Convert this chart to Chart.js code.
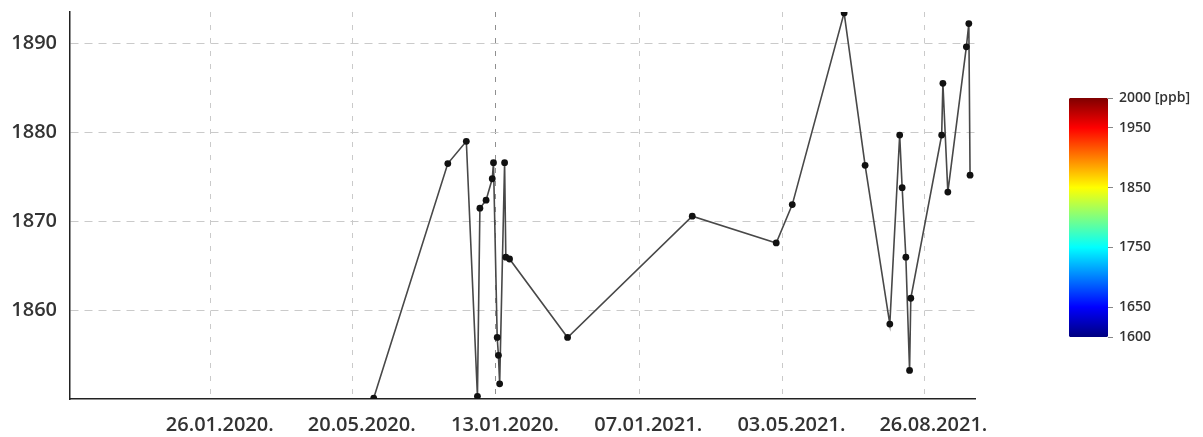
<!DOCTYPE html>
<html>
<head>
<meta charset="utf-8">
<script src="https://cdn.jsdelivr.net/npm/chart.js@4.4.1/dist/chart.umd.min.js"></script>
<style>
  html, body { margin: 0; padding: 0; background: #fff; }
  #wrap { position: relative; width: 1203px; height: 437px; overflow: hidden; }
  #main { position: absolute; left: 0; top: 0; }
  #scale { position: absolute; left: 1060px; top: 0; }
</style>
</head>
<body>
<div id="wrap">
  <canvas id="main" width="1000" height="437"></canvas>
  <canvas id="scale" width="143" height="437"></canvas>
</div>
<script>
// CH4 samples (ppb) by sampling date
const sampleDates = [
  '2020-06-06', '2020-08-05', '2020-08-20', '2020-08-29', '2020-08-31',
  '2020-09-05', '2020-09-10', '2020-09-11', '2020-09-14', '2020-09-15',
  '2020-09-16', '2020-09-20', '2020-09-21', '2020-09-24', '2020-11-10',
  '2021-02-19', '2021-04-28', '2021-05-11', '2021-06-22', '2021-07-09',
  '2021-07-29', '2021-08-06', '2021-08-08', '2021-08-11', '2021-08-14',
  '2021-08-15', '2021-09-09', '2021-09-10', '2021-09-14', '2021-09-29',
  '2021-10-01', '2021-10-02'
];
const ch4Values = [
  1850.2, 1876.5, 1879.0, 1850.4, 1871.5,
  1872.4, 1874.8, 1876.6, 1857.0, 1855.0,
  1851.8, 1876.6, 1866.0, 1865.8, 1857.0,
  1870.6, 1867.6, 1871.9, 1893.4, 1876.3,
  1858.5, 1879.7, 1873.8, 1866.0, 1853.3,
  1861.4, 1879.7, 1885.5, 1873.3, 1889.6,
  1892.2, 1875.2
];

// Time axis
const axisStart = '2019-10-04';
const axisEnd = '2021-10-06';
const tickDates = ['2020-01-26', '2020-05-20', '2020-09-13', '2021-01-07', '2021-05-03', '2021-08-26'];
const tickLabels = ['26.01.2020.', '20.05.2020.', '13.01.2020.', '07.01.2021.', '03.05.2021.', '26.08.2021.'];

// Value axis
const valueMin = 1850.1;
const valueMax = 1893.5;
const valueTicks = [1860, 1870, 1880, 1890];

// Colour scale
const colorbarRange = [1600, 2000];
const colorbarTicks = [1600, 1650, 1750, 1850, 1950, 2000];
const colorbarUnit = '[ppb]';

const toTime = s => Date.parse(s + 'T00:00:00Z');
const labelFont = { family: 'Open Sans', size: 20, weight: '600' };

new Chart(document.getElementById('main'), {
  type: 'line',
  data: {
    datasets: [{
      data: sampleDates.map((d, i) => ({ x: toTime(d), y: ch4Values[i] })),
      borderColor: '#484848',
      borderWidth: 1.6,
      pointRadius: 3.4,
      pointBackgroundColor: '#111',
      pointBorderColor: '#111',
      pointBorderWidth: 0,
      tension: 0
    }]
  },
  options: {
    responsive: false,
    animation: false,
    events: [],
    layout: { padding: { top: 12, right: 25, left: 0, bottom: 0 } },
    plugins: { legend: { display: false }, tooltip: { enabled: false } },
    scales: {
      x: {
        type: 'linear',
        min: toTime(axisStart),
        max: toTime(axisEnd),
        afterBuildTicks: s => { s.ticks = tickDates.map(d => ({ value: toTime(d) })); },
        afterFit: s => { s.height = 38; s.paddingLeft = 0; s.paddingRight = 0; },
        ticks: {
          autoSkip: false, maxRotation: 0, minRotation: 0,
          padding: 14, labelOffset: 9,
          color: '#333', font: labelFont,
          callback: (v, i) => tickLabels[i]
        },
        grid: {
          drawTicks: false,
          lineWidth: 1,
          color: c => (c.index === 2 ? '#8f8f8f' : '#cacaca')
        },
        border: { display: true, color: '#222', width: 1.5, dash: [5, 8] }
      },
      y: {
        type: 'linear',
        min: valueMin,
        max: valueMax,
        afterBuildTicks: s => { s.ticks = valueTicks.map(v => ({ value: v })); },
        afterFit: s => { s.width = 70; s.paddingTop = 0; s.paddingBottom = 0; },
        ticks: { padding: 13, color: '#333', font: labelFont, callback: v => v },
        grid: { drawTicks: false, lineWidth: 1, color: '#cacaca' },
        border: { display: true, color: '#222', width: 1.5, dash: [8, 6] }
      }
    }
  }
});

// Jet colour map stops, low value at 0
const jetStops = [
  [0.0, '#00007f'], [0.125, '#0000ff'], [0.375, '#00ffff'],
  [0.625, '#ffff00'], [0.875, '#ff0000'], [1.0, '#7f0000']
];

new Chart(document.getElementById('scale'), {
  type: 'bar',
  data: {
    labels: [''],
    datasets: [{
      data: [colorbarRange],
      backgroundColor: ctx => {
        const a = ctx.chart.chartArea;
        if (!a) return '#888';
        const g = ctx.chart.ctx.createLinearGradient(0, a.bottom, 0, a.top);
        jetStops.forEach(([p, c]) => g.addColorStop(p, c));
        return g;
      },
      barPercentage: 1,
      categoryPercentage: 1,
      borderRadius: 3,
      borderSkipped: false,
      borderWidth: 0
    }]
  },
  options: {
    responsive: false,
    animation: false,
    events: [],
    layout: { padding: { left: 9, top: 98, bottom: 100, right: 0 } },
    plugins: { legend: { display: false }, tooltip: { enabled: false } },
    scales: {
      x: { display: false },
      y: {
        position: 'right',
        min: colorbarRange[0],
        max: colorbarRange[1],
        afterBuildTicks: s => { s.ticks = colorbarTicks.map(v => ({ value: v })); },
        afterFit: s => { s.width = 95; s.paddingTop = 0; s.paddingBottom = 0; },
        grid: { drawOnChartArea: false, drawTicks: true, tickLength: 5, tickColor: '#888', lineWidth: 1 },
        border: { display: false },
        ticks: {
          padding: 6, color: '#333',
          font: { family: 'Open Sans', size: 14, weight: '600' },
          callback: v => (v === colorbarRange[1] ? v + ' ' + colorbarUnit : v)
        }
      }
    }
  }
});
</script>
</body>
</html>
